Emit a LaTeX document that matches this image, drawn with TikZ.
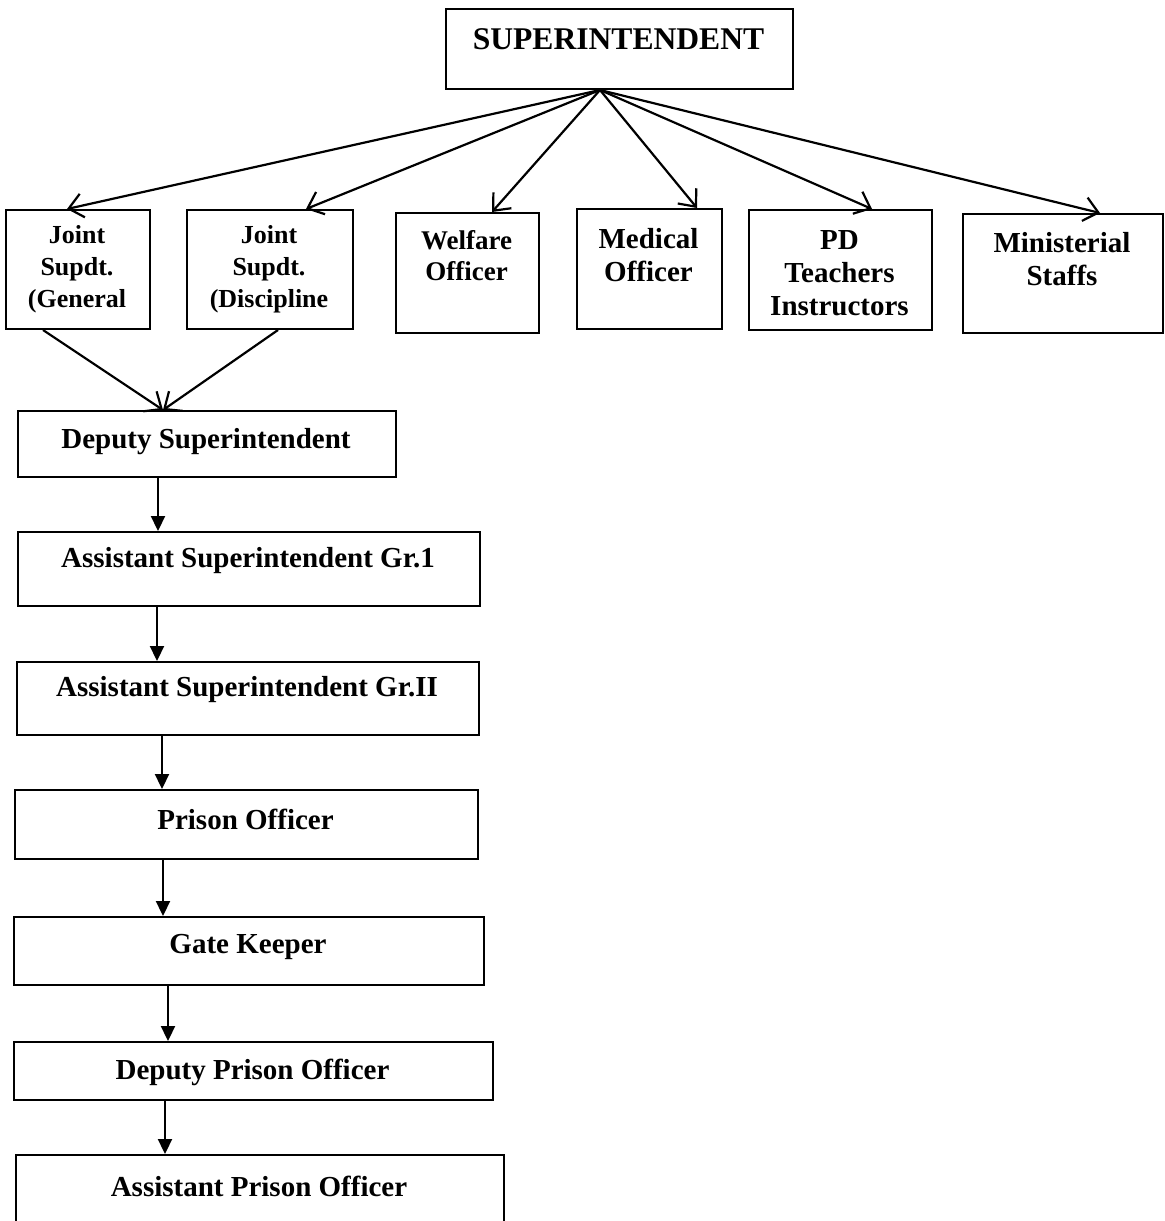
\documentclass[tikz,border=0pt]{standalone}
\usepackage{fontspec}
\setmainfont{Liberation Serif}
\usetikzlibrary{arrows.meta,calc}
\begin{document}
\begin{tikzpicture}[x=0.5pt,y=-0.5pt,
  box/.style={draw,line width=1pt,rectangle,inner sep=0pt,anchor=north west},
  lbl/.style={font=\bfseries\fontsize{14.5}{16.5}\selectfont,align=center,inner sep=0pt},
  slbl/.style={font=\bfseries\fontsize{13}{16}\selectfont,align=center,inner sep=0pt},
  fanarrow/.style={line width=1.1pt,-{Straight Barb[length=7pt,width=12pt]}},
  varrow/.style={line width=1.1pt,-{Triangle[length=7.5pt,width=7pt]}}]
\useasboundingbox (0,0) rectangle (1165,1221);
\clip (0,0) rectangle (1165,1221);

% boxes
\node[box,minimum width=173.5pt,minimum height=40pt] (sup) at (445,8) {};
\node[box,minimum width=72pt,minimum height=59.5pt] (jg) at (5,209) {};
\node[box,minimum width=83pt,minimum height=59.5pt] (jd) at (186,209) {};
\node[box,minimum width=71.5pt,minimum height=60pt] (wel) at (395,212) {};
\node[box,minimum width=72.5pt,minimum height=60pt] (med) at (576,208) {};
\node[box,minimum width=91.5pt,minimum height=60pt] (pd) at (748,209) {};
\node[box,minimum width=100pt,minimum height=59.5pt] (min) at (962,213) {};
\node[box,minimum width=189pt,minimum height=33pt] (dep) at (17,410) {};
\node[box,minimum width=231pt,minimum height=37pt] (a1) at (17,531) {};
\node[box,minimum width=231pt,minimum height=36.5pt] (a2) at (16,661) {};
\node[box,minimum width=231.5pt,minimum height=34.5pt] (po) at (14,789) {};
\node[box,minimum width=235pt,minimum height=34pt] (gk) at (13,916) {};
\node[box,minimum width=239.5pt,minimum height=29pt] (dpo) at (13,1041) {};
\node[box,minimum width=244pt,minimum height=60pt] (apo) at (15,1154) {};

% texts
\node[lbl,font=\bfseries\fontsize{15.8}{18}\selectfont] (tsup) at (618.5,39) {SUPERINTENDENT};
\node[slbl] (tjg) at (77,269) {Joint\\Supdt.\\(General};
\node[slbl] (tjd) at (269,269) {Joint\\Supdt.\\(Discipline};
\node[slbl,font=\bfseries\fontsize{13.5}{15.5}\selectfont] (twel) at (466.5,256) {Welfare\\Officer};
\node[lbl] (tmed) at (648.5,255) {Medical\\Officer};
\node[lbl] (tpd) at (839.5,273) {PD\\Teachers\\Instructors};
\node[lbl] (tmin) at (1062,259) {Ministerial\\Staffs};
\node[lbl] (tdep) at (206,442) {Deputy Superintendent};
\node[lbl] (ta1) at (248,561) {Assistant Superintendent Gr.1};
\node[lbl] (ta2) at (247,690) {Assistant Superintendent Gr.II};
\node[lbl] (tpo) at (245.5,819) {Prison Officer};
\node[lbl] (tgk) at (248,947) {Gate Keeper};
\node[lbl] (tdpo) at (252.5,1072) {Deputy Prison Officer};
\node[lbl] (tapo) at (259,1186) {Assistant Prison Officer};

% fan connectors
\coordinate (fan) at ($(sup.south west)+(155,0)$);
\draw[fanarrow] (fan) -- ($(jg.north west)+(62,0)$);
\draw[fanarrow] (fan) -- ($(jd.north west)+(120,0)$);
\draw[fanarrow] (fan) -- ($(wel.north west)+(97,0)$);
\draw[fanarrow] (fan) -- ($(med.north west)+(121,0)$);
\draw[fanarrow] (fan) -- ($(pd.north west)+(124,0)$);
\draw[fanarrow] (fan) -- ($(min.north west)+(138,0)$);

% joint to deputy
\draw[fanarrow] ($(jg.south west)+(38,0)$) -- ($(dep.north west)+(146,0)$);
\draw[fanarrow] ($(jd.south west)+(92,0)$) -- ($(dep.north west)+(146,0)$);

% vertical chain
\draw[varrow] ($(dep.south west)+(141,0)$) -- ($(a1.north west)+(141,0)$);
\draw[varrow] ($(a1.south west)+(140,0)$) -- ($(a2.north west)+(141,0)$);
\draw[varrow] ($(a2.south west)+(146,0)$) -- ($(po.north west)+(148,0)$);
\draw[varrow] ($(po.south west)+(149,0)$) -- ($(gk.north west)+(150,0)$);
\draw[varrow] ($(gk.south west)+(155,0)$) -- ($(dpo.north west)+(155,0)$);
\draw[varrow] ($(dpo.south west)+(152,0)$) -- ($(apo.north west)+(150,0)$);
\end{tikzpicture}
\end{document}
